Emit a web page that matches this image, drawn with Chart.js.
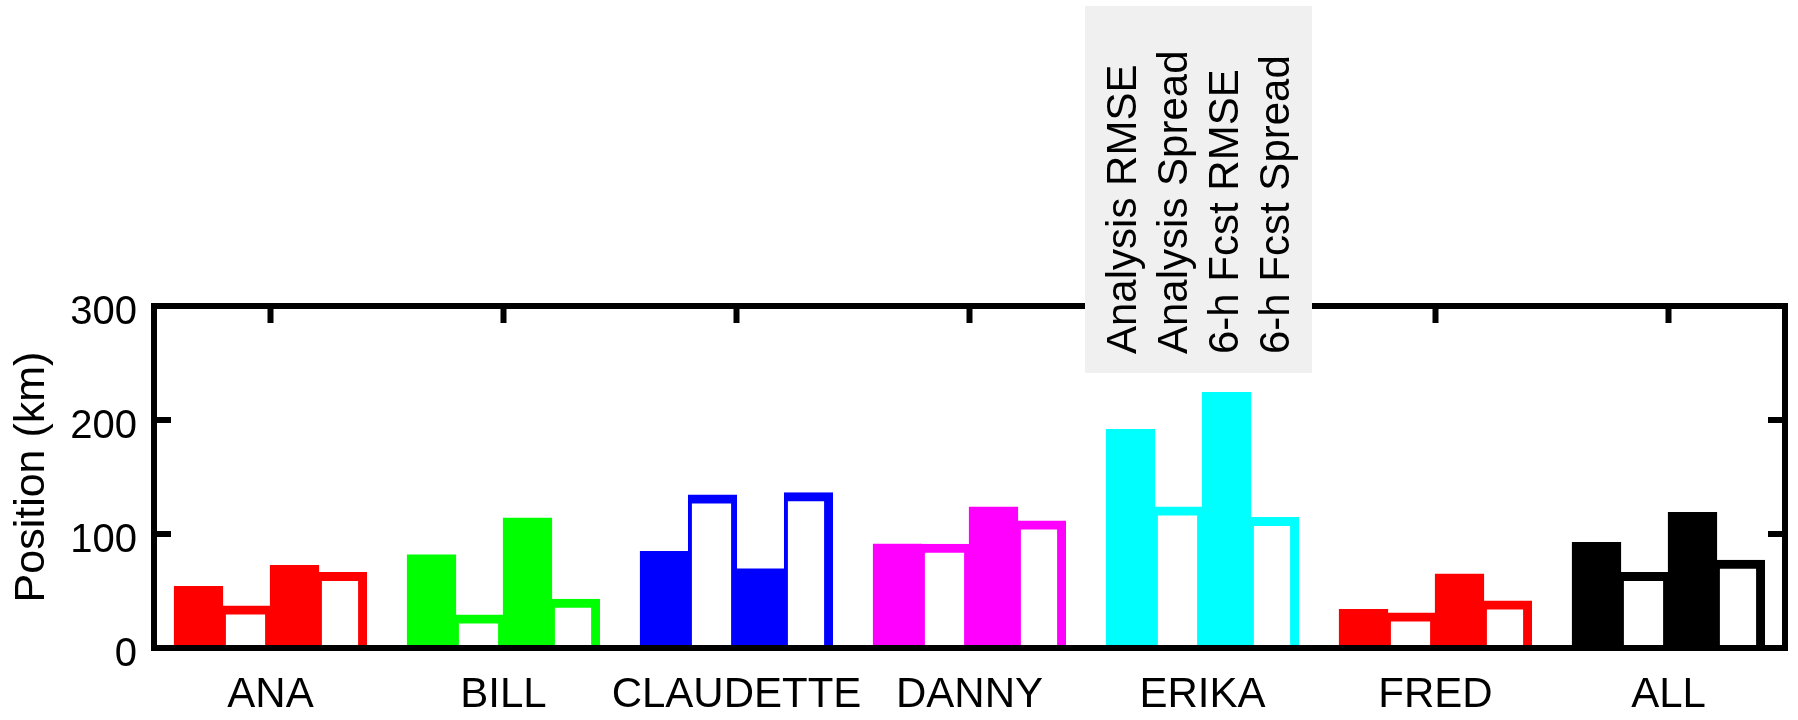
<!DOCTYPE html>
<html>
<head>
<meta charset="utf-8">
<script src="https://cdn.jsdelivr.net/npm/chart.js@4.4.1/dist/chart.umd.min.js"></script>
<style>
  html, body { margin: 0; padding: 0; background: #ffffff; }
  #c { display: block; }
</style>
</head>
<body>
<canvas id="c" width="1798" height="720"></canvas>
<script>
// ---- data ----
const categories = ['ANA', 'BILL', 'CLAUDETTE', 'DANNY', 'ERIKA', 'FRED', 'ALL'];
const seriesNames = ['Analysis RMSE', 'Analysis Spread', '6-h Fcst RMSE', '6-h Fcst Spread'];
const analysisRMSE   = [53.8, 81.6, 84.5, 91.0, 191.5, 33.6, 92.4];
const analysisSpread = [36.8, 28.9, 134.2, 91.0, 123.7, 30.7, 66.1];
const fcstRMSE       = [72.2, 113.7, 69.3, 123.4, 224.0, 64.6, 118.7];
const fcstSpread     = [66.1, 42.7, 136.0, 111.4, 114.3, 41.2, 76.9];
const categoryColors = ['#ff0000', '#00ff00', '#0000ff', '#ff00ff', '#00ffff', '#ff0000', '#000000'];
const yTickValues = [0, 100, 200, 300];
const yTitle = 'Position (km)';

const FONT = "'Liberation Sans', Arial, Helvetica, sans-serif";

// ---- plugins: MATLAB-style box with inward ticks, and a text-only legend box ----
const framePlugin = {
  id: 'frame',
  afterDatasetsDraw(chart) {
    const { ctx, chartArea: a, scales: { x, y } } = chart;
    ctx.save();
    ctx.strokeStyle = '#000';
    ctx.lineWidth = 6;
    ctx.lineCap = 'butt';
    ctx.lineJoin = 'miter';
    ctx.beginPath();
    ctx.rect(a.left, a.top, a.right - a.left, a.bottom - a.top);
    ctx.stroke();
    const L = 17;
    ctx.beginPath();
    y.ticks.forEach((t, i) => {
      const py = y.getPixelForTick(i);
      ctx.moveTo(a.left, py); ctx.lineTo(a.left + L, py);
      ctx.moveTo(a.right, py); ctx.lineTo(a.right - L, py);
    });
    x.ticks.forEach((t, i) => {
      const px = x.getPixelForTick(i);
      ctx.moveTo(px, a.top); ctx.lineTo(px, a.top + L);
    });
    ctx.stroke();
    ctx.restore();
  }
};

const legendBoxPlugin = {
  id: 'legendBox',
  afterDraw(chart) {
    const { ctx } = chart;
    const box = { x: 1085, y: 6, w: 227, h: 367 };
    ctx.save();
    ctx.fillStyle = '#f0f0f0';
    ctx.fillRect(box.x, box.y, box.w, box.h);
    ctx.fillStyle = '#000';
    ctx.font = '42px ' + FONT;
    ctx.textAlign = 'left';
    ctx.textBaseline = 'alphabetic';
    chart.data.datasets.forEach((ds, i) => {
      ctx.save();
      ctx.translate(1136 + i * 51.1, 354);
      ctx.rotate(-Math.PI / 2);
      ctx.fillText(ds.label, 0, 0);
      ctx.restore();
    });
    ctx.restore();
  }
};

const outlineBorder = { top: 9, left: 4, right: 6, bottom: 0 };
const lastOutlineBorder = { top: 9, left: 4, right: 9, bottom: 0 };

const chart = new Chart(document.getElementById('c'), {
  type: 'bar',
  data: {
    labels: categories,
    datasets: [
      { label: seriesNames[0], data: analysisRMSE, backgroundColor: categoryColors, borderWidth: 0 },
      { label: seriesNames[1], data: analysisSpread, backgroundColor: '#ffffff', borderColor: categoryColors, borderWidth: outlineBorder },
      { label: seriesNames[2], data: fcstRMSE, backgroundColor: categoryColors, borderWidth: 0 },
      { label: seriesNames[3], data: fcstSpread, backgroundColor: '#ffffff', borderColor: categoryColors, borderWidth: lastOutlineBorder }
    ]
  },
  options: {
    responsive: false,
    animation: false,
    devicePixelRatio: 1,
    datasets: { bar: { barPercentage: 1.0, categoryPercentage: 0.824, inflateAmount: 0.6 } },
    layout: { padding: { top: 306, right: 13, bottom: 0, left: 0 } },
    plugins: { legend: { display: false }, tooltip: { enabled: false }, title: { display: false } },
    scales: {
      x: {
        type: 'category',
        offset: true,
        grid: { display: false, drawTicks: false },
        border: { display: false },
        ticks: { color: '#000', font: { family: FONT, size: 42 }, padding: 22, maxRotation: 0, autoSkip: false },
        afterFit(s) { s.height = 72; }
      },
      y: {
        min: 0, max: 300,
        afterBuildTicks(s) { s.ticks = yTickValues.map(v => ({ value: v })); },
        grid: { display: false, drawTicks: false },
        border: { display: false },
        ticks: { color: '#000', font: { family: FONT, size: 40 }, padding: 17, labelOffset: 7 },
        title: { display: true, text: yTitle, color: '#000', font: { family: FONT, size: 43 }, padding: { top: 6, bottom: 0 } },
        afterFit(s) { s.width = 154; }
      }
    }
  },
  plugins: [framePlugin, legendBoxPlugin]
});
</script>
</body>
</html>
